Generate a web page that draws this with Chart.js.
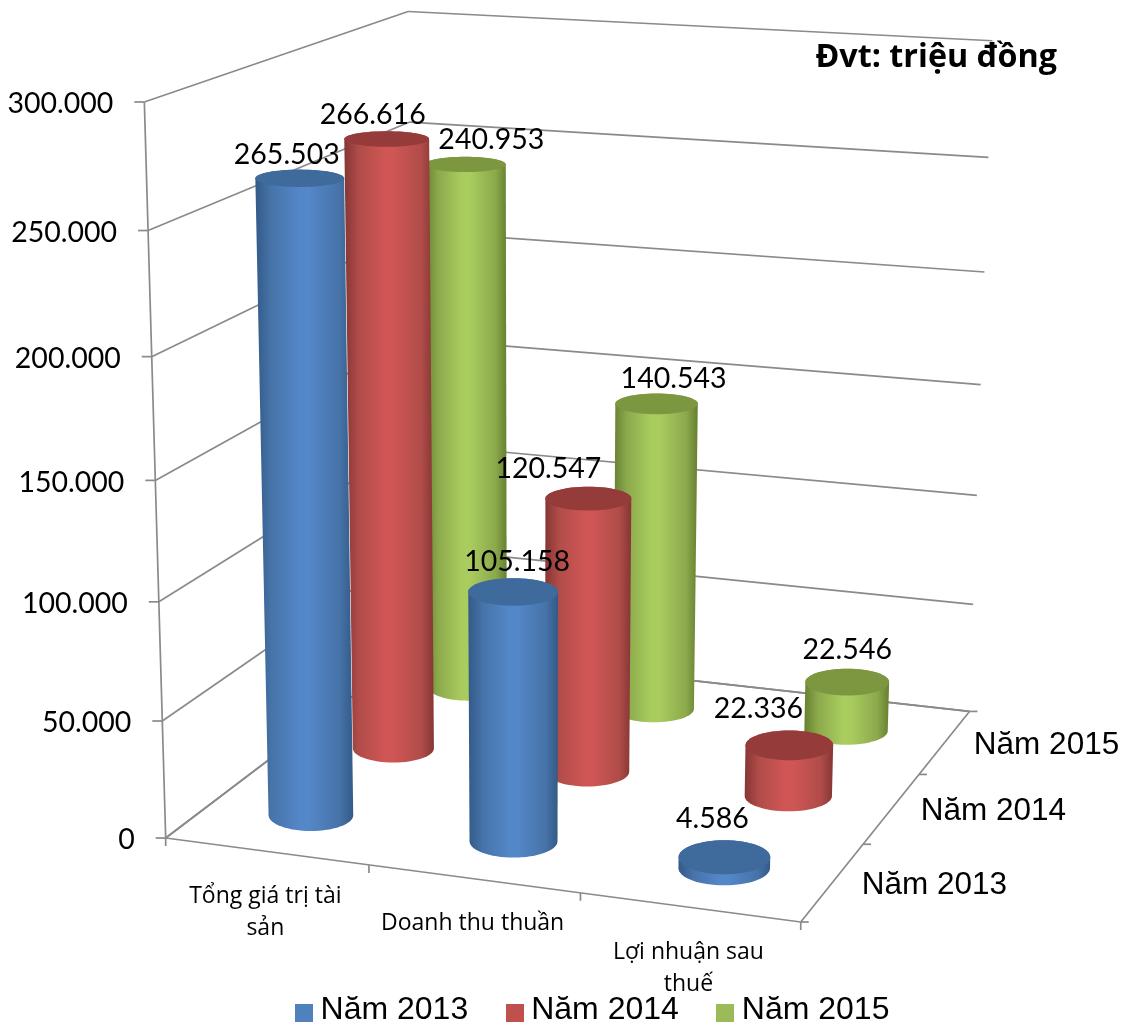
<!DOCTYPE html>
<html><head><meta charset="utf-8">
<style>html,body{margin:0;padding:0;background:#fff}#w{width:1134px;height:1026px;position:relative}</style>
<script src="https://cdn.jsdelivr.net/npm/chart.js@4/dist/chart.umd.js"></script>
</head><body><div id="w"><canvas id="c"></canvas></div>
<script>
const categories = [['Tổng giá trị tài','sản'],['Doanh thu thuần'],['Lợi nhuận sau','thuế']];
const seriesNames = ['Năm 2013','Năm 2014','Năm 2015'];
const values2013 = [265503,105158,4586];
const values2014 = [266616,120547,22336];
const values2015 = [240953,140543,22546];
const yTickStep = 50000;
const yMax = 300000;
const titleText = 'Đvt: triệu đồng';

const seriesFill = ['#4F81BD','#C0504D','#9BBB59'];
const seriesShades = [
  {edge:'#335A88',mid:'#4673A8',light:'#5487C8',top:'#3E6A9C'},
  {edge:'#853634',mid:'#B04C49',light:'#CF5654',top:'#953C3B'},
  {edge:'#66802F',mid:'#8CA94C',light:'#A9CC5E',top:'#7D9640'}
];
const labelNudge = [
  [[-13,-24],[4,-30],[-12,-38]],
  [[-14,-24],[-40,-30],[-31,-37]],
  [[26,-25],[17,-25],[0,-32]]
];
const GRID='#8A8A8A', DIGIT_FONT='Lato, "Open Sans", sans-serif', VIET_FONT='"Open Sans", sans-serif', ARIAL='"Liberation Sans", Arial, sans-serif';

// Camera calibration of the 3D box: [X, Y, Z, pixel x, pixel y]
const camera = [
 [0,0,0,166,838],[1,0,0,799,923],[1,0,1,970,711],[0,0,1,414,650],[0,1,0,145,101.7],[0,1,1,408,11],[1,1,1,994,41],
 [0,5/6,0,148,230],[0,1/6,0,163.6,720],[1,5/6,1,988,158],[1,4/6,1,984,272],[1,3/6,1,980,385],[1,2/6,1,976,495],[1,1/6,1,973,605],
 [1/3,0,0,368.5,867],[2/3,0,0,579,893],[1,0,1/3,864,843],[1,0,2/3,921,773],[0,5/6,1,408,122.7]
];
function solveCamera(){
  const n=11, M=Array.from({length:n},()=>new Array(n+1).fill(0));
  const add=(r,b)=>{for(let i=0;i<n;i++){for(let j=0;j<n;j++)M[i][j]+=r[i]*r[j];M[i][n]+=r[i]*b;}};
  camera.forEach(([X,Y,Z,u,v])=>{
    add([X,Y,Z,1,0,0,0,0,-u*X,-u*Y,-u*Z],u);
    add([0,0,0,0,X,Y,Z,1,-v*X,-v*Y,-v*Z],v);
  });
  for(let c=0;c<n;c++){
    let p=c;for(let r=c+1;r<n;r++)if(Math.abs(M[r][c])>Math.abs(M[p][c]))p=r;
    [M[c],M[p]]=[M[p],M[c]];
    for(let r=0;r<n;r++){if(r===c)continue;const f=M[r][c]/M[c][c];for(let k=c;k<=n;k++)M[r][k]-=f*M[c][k];}
  }
  return M.map((row,i)=>row[n]/row[i]);
}
const P=solveCamera();
function project(X,Y,Z){
  const w=P[8]*X+P[9]*Y+P[10]*Z+1;
  return {x:(P[0]*X+P[1]*Y+P[2]*Z+P[3])/w,y:(P[4]*X+P[5]*Y+P[6]*Z+P[7])/w};
}
const RX=0.071, RZ=0.075;
function ring(X,Y,Z){
  const c=project(X,Y,Z);
  const rx=(project(X+RX,Y,Z).x-project(X-RX,Y,Z).x)/2;
  const ry=Math.abs(project(X,Y,Z+RZ).y-project(X,Y,Z-RZ).y)/2;
  const a=[];for(let i=0;i<64;i++){const t=i/64*Math.PI*2;a.push({x:c.x+rx*Math.cos(t),y:c.y+ry*Math.sin(t)});}
  return a;
}
function hull(pts){
  const s=pts.slice().sort((a,b)=>a.x-b.x||a.y-b.y),cr=(o,a,b)=>(a.x-o.x)*(b.y-o.y)-(a.y-o.y)*(b.x-o.x);
  const lo=[],up=[];
  for(const p of s){while(lo.length>1&&cr(lo[lo.length-2],lo[lo.length-1],p)<=0)lo.pop();lo.push(p);}
  for(const p of s.slice().reverse()){while(up.length>1&&cr(up[up.length-2],up[up.length-1],p)<=0)up.pop();up.push(p);}
  return lo.slice(0,-1).concat(up.slice(0,-1));
}
function poly(ctx,pts){ctx.beginPath();pts.forEach((p,i)=>i?ctx.lineTo(p.x,p.y):ctx.moveTo(p.x,p.y));ctx.closePath();}
function seg(ctx,a,b){ctx.beginPath();ctx.moveTo(a.x,a.y);ctx.lineTo(b.x,b.y);ctx.stroke();}
function fmt(v){return String(v).replace(/\B(?=(\d{3})+$)/g,'.');}
const noFit={fit(){const h=this.isHorizontal();this.width=h?this.maxWidth:0;this.height=h?0:this.maxHeight;}};

class WallValueScale extends Chart.LinearScale{
  static id='wallValue';
  fit(){noFit.fit.call(this);}
  getDecimalForValue(v){return (v-this.min)/(this.max-this.min);}
  getPixelForValue(v){return project(0,this.getDecimalForValue(v),0).y;}
  draw(){
    const ctx=this.ctx;ctx.save();ctx.strokeStyle=GRID;ctx.lineWidth=1.7;
    seg(ctx,project(0,0,0),project(0,1,0));
    this.ticks.forEach(t=>{
      const Y=this.getDecimalForValue(t.value),a=project(0,Y,0),b=project(0,Y,1),c=project(1,Y,1);
      seg(ctx,{x:a.x-10,y:a.y},a);seg(ctx,a,b);seg(ctx,b,c);
      ctx.fillStyle='#000';ctx.font='28.5px '+DIGIT_FONT;ctx.textAlign='right';ctx.textBaseline='middle';
      ctx.fillText(t.label,a.x-31,a.y+2);
    });
    ctx.restore();
  }
}
class FloorCategoryScale extends Chart.CategoryScale{
  static id='floorCategory';
  fit(){noFit.fit.call(this);}
  draw(){
    const ctx=this.ctx,n=this.getLabels().length;ctx.save();ctx.strokeStyle=GRID;ctx.lineWidth=1.7;
    seg(ctx,project(0,0,0),project(1,0,0));
    for(let i=0;i<=n;i++){const a=project(i/n,0,0);seg(ctx,a,{x:a.x,y:a.y+8});}
    ctx.fillStyle='#000';ctx.font='23px '+VIET_FONT;ctx.textAlign='center';ctx.textBaseline='middle';
    this.ticks.forEach((t,i)=>{
      const a=project((i+.5)/n,0,0);
      [].concat(t.label).forEach((s,k)=>ctx.fillText(s,a.x-1,a.y+45+k*32));
    });
    ctx.restore();
  }
}
class FloorDepthScale extends Chart.CategoryScale{
  static id='floorDepth';
  fit(){noFit.fit.call(this);}
  draw(){
    const ctx=this.ctx,n=this.getLabels().length;ctx.save();ctx.strokeStyle=GRID;ctx.lineWidth=1.7;
    seg(ctx,project(1,0,0),project(1,0,1));seg(ctx,project(1,0,1),project(0,0,1));seg(ctx,project(0,0,1),project(0,0,0));
    for(let i=0;i<=n;i++){const a=project(1,0,i/n);seg(ctx,a,{x:a.x+8,y:a.y});}
    ctx.fillStyle='#000';ctx.font='31.5px '+ARIAL;ctx.textAlign='left';ctx.textBaseline='middle';
    this.ticks.forEach((t,i)=>{const a=project(1,0,(i+.5)/n);ctx.fillText(t.label,a.x+29,a.y+3);});
    ctx.restore();
  }
}
class CylinderController extends Chart.BarController{
  static id='cylinder';
  draw(){
    const ctx=this.chart.ctx,meta=this._cachedMeta,vs=meta.vScale,n=meta.data.length,m=this.chart.data.datasets.length;
    const sh=seriesShades[this.index],Z=(this.index+.5)/m;
    meta.data.forEach((el,i)=>{
      const X=(i+.5)/n,Y=vs.getDecimalForValue(this.getParsed(i).y);
      const top=ring(X,Y,Z),bot=ring(X,0,Z),h=hull(top.concat(bot));
      const xs=h.map(p=>p.x),x0=Math.min(...xs),x1=Math.max(...xs);
      const g=ctx.createLinearGradient(x0,0,x1,0);
      g.addColorStop(0,sh.edge);g.addColorStop(.16,sh.mid);g.addColorStop(.45,sh.light);g.addColorStop(.55,sh.light);g.addColorStop(.86,sh.mid);g.addColorStop(1,sh.edge);
      ctx.save();ctx.fillStyle=g;poly(ctx,h);ctx.fill();ctx.fillStyle=sh.top;poly(ctx,top);ctx.fill();ctx.restore();
    });
  }
}
const valueLabels={id:'valueLabels',afterDatasetsDraw(chart){
  const ctx=chart.ctx,m=chart.data.datasets.length;ctx.save();
  ctx.fillStyle='#000';ctx.font='28.5px '+DIGIT_FONT;ctx.textAlign='center';ctx.textBaseline='middle';
  chart.data.datasets.forEach((ds,d)=>{
    const vs=chart.scales.y;
    ds.data.forEach((v,i)=>{
      const c=project((i+.5)/ds.data.length,vs.getDecimalForValue(v),(d+.5)/m),o=labelNudge[d][i];
      ctx.fillText(fmt(v),c.x+o[0],c.y+o[1]);
    });
  });
  ctx.restore();
}};
Chart.register(WallValueScale,FloorCategoryScale,FloorDepthScale,CylinderController);
function swatch(col){const s=document.createElement('canvas');s.width=18;s.height=24;const x=s.getContext('2d');x.fillStyle=col;x.fillRect(0,6,18,18);return s;}
const swatches=seriesFill.map(swatch);
const allSeries=[values2013,values2014,values2015];
new Chart(document.getElementById('c'),{
  type:'cylinder',
  data:{labels:categories,datasets:seriesNames.map((n,i)=>({label:n,data:allSeries[i],backgroundColor:seriesFill[i],clip:false}))},
  options:{
    responsive:true,maintainAspectRatio:false,animation:false,
    layout:{padding:{left:136,right:77,top:0,bottom:-10}},
    events:[],
    scales:{
      x:{type:'floorCategory',ticks:{autoSkip:false,maxRotation:0}},
      y:{type:'wallValue',min:0,max:yMax,ticks:{stepSize:yTickStep,autoSkip:false,callback:fmt}},
      depth:{type:'floorDepth',axis:'y',position:'right',labels:seriesNames,ticks:{autoSkip:false}}
    },
    plugins:{
      tooltip:{enabled:false},
      title:{display:true,text:titleText,align:'end',color:'#000',font:{family:VIET_FONT,size:32.3,weight:'bold'},padding:{top:38,bottom:0}},
      legend:{position:'bottom',align:'center',labels:{color:'#000',font:{family:ARIAL,size:32},usePointStyle:true,pointStyleWidth:1,boxHeight:18,padding:46,
        generateLabels(ch){return Chart.defaults.plugins.legend.labels.generateLabels(ch).map((l,i)=>Object.assign(l,{pointStyle:swatches[i]}));}}}
    }
  },
  plugins:[valueLabels]
});
</script></body></html>
